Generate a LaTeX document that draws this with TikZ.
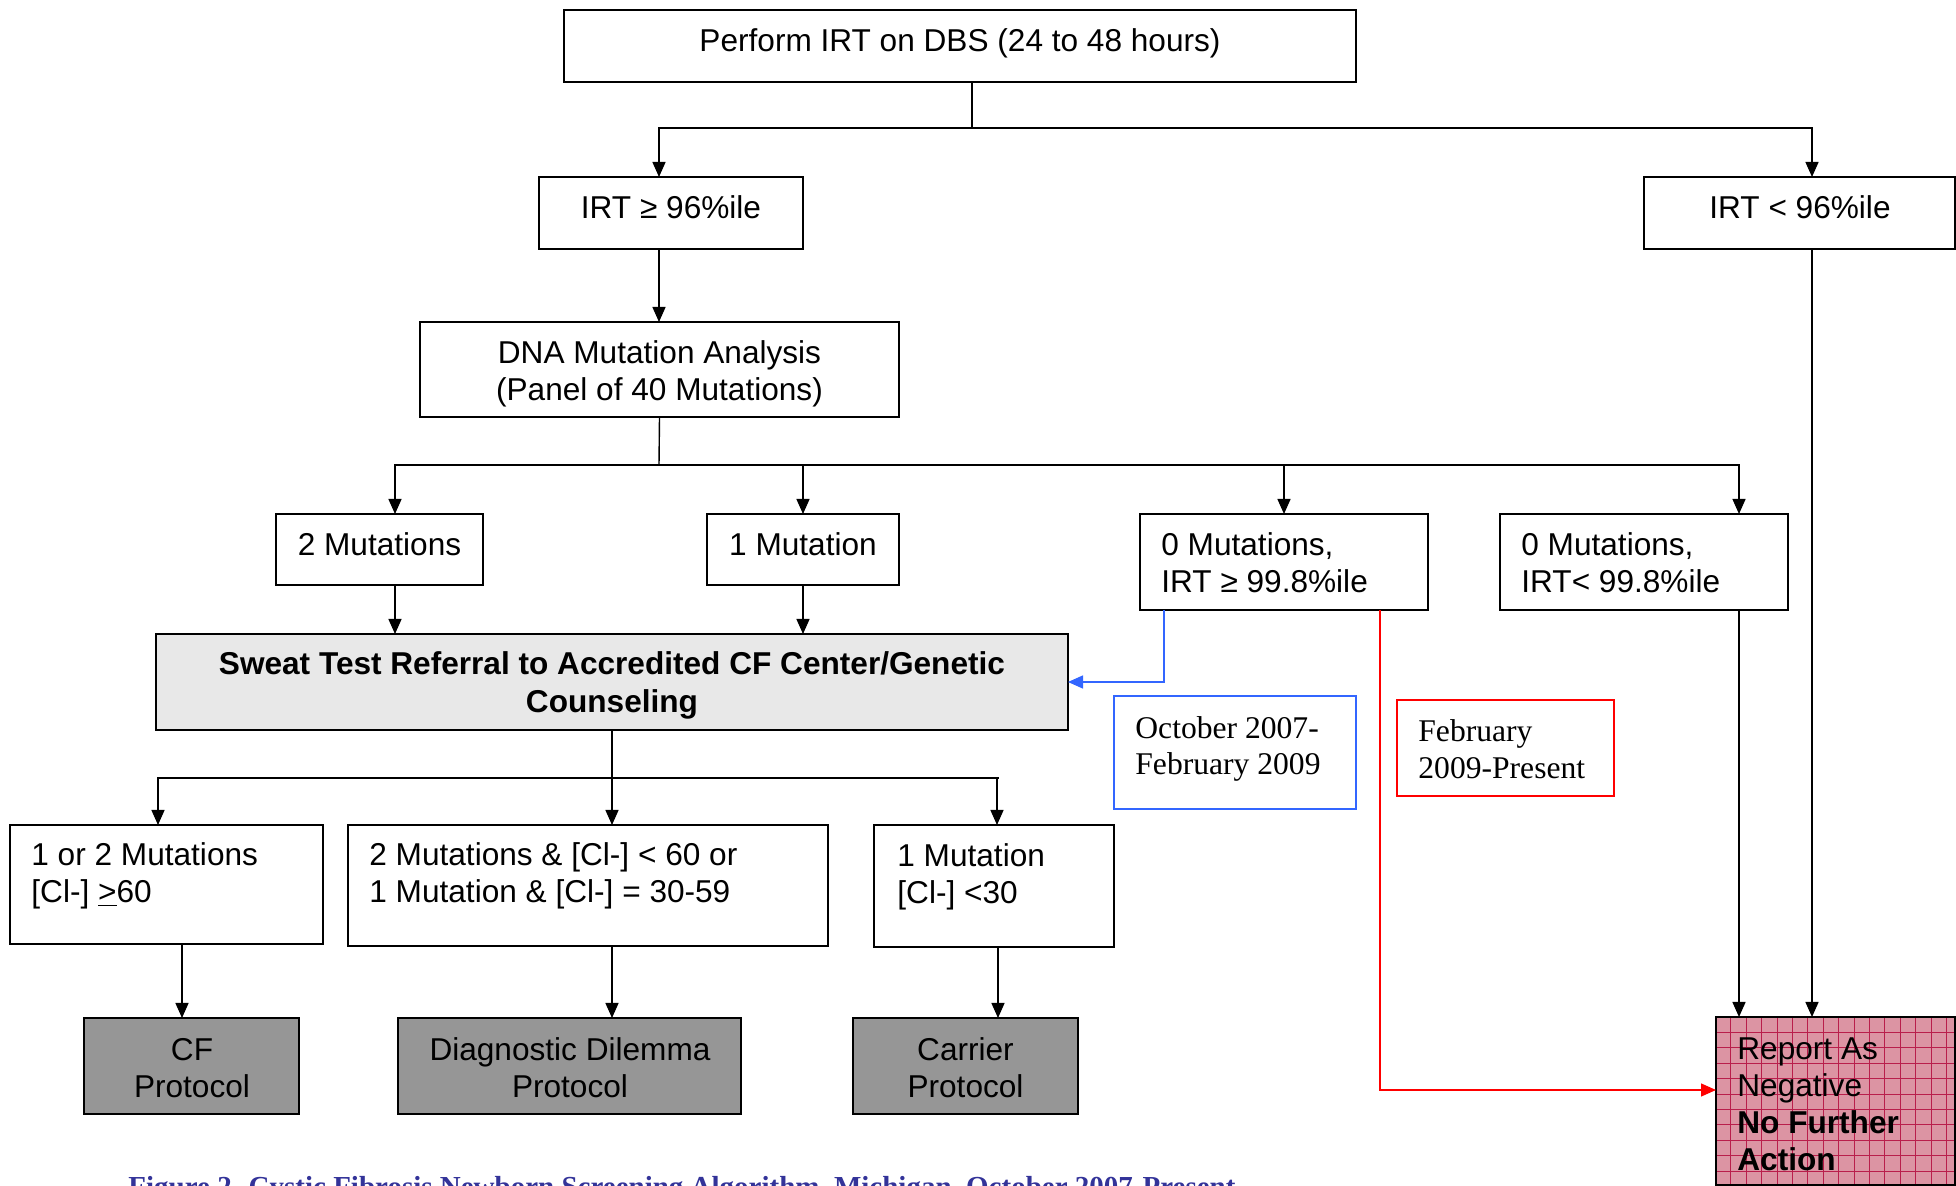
\documentclass[tikz,border=0pt]{standalone}
\usepackage{fontspec}
\setmainfont{Liberation Sans}
\newfontfamily\tms{Liberation Serif}
\usetikzlibrary{arrows.meta,fit,calc}
\definecolor{bluec}{RGB}{51,102,255}
\definecolor{redc}{RGB}{255,0,0}
\definecolor{pinkc}{RGB}{220,148,163}
\definecolor{gridc}{RGB}{185,30,75}
\definecolor{darkg}{RGB}{150,150,150}
\definecolor{lightg}{RGB}{232,232,232}
\definecolor{capc}{RGB}{51,51,153}
\begin{document}
\begin{tikzpicture}[x=0.5pt,y=-0.5pt,
  box/.style={draw=black,line width=1pt,inner sep=0pt,outer sep=0pt},
  ln/.style={line width=0.7pt},
  arr/.style={line width=0.7pt,-{Triangle[length=7.5pt,width=6.5pt]}},
  txt/.style={inner sep=0pt,yshift=-0.9pt,font=\fontsize{15.8}{18}\selectfont},
  lt/.style={txt,anchor=base west},
  ct/.style={txt,anchor=base},
  tt/.style={inner sep=0pt,yshift=-0.9pt,anchor=base west,font=\fontsize{15.8}{18}\selectfont\tms},
]
\useasboundingbox (0,0) rectangle (1956,1186);
\clip (0,0) rectangle (1956,1186);

% ---------- boxes ----------
\node[box,fit={(564,10)(1356,82)}] (top) {};
\node[box,fit={(539,177)(803,249)}] (irtHi) {};
\node[box,fit={(1644,177)(1955,249)}] (irtLo) {};
\node[box,fit={(420,322)(899,417)}] (dna) {};
\node[box,fit={(276,514)(483,585)}] (m2) {};
\node[box,fit={(707,514)(899,585)}] (m1) {};
\node[box,fit={(1140,514)(1428,610)}] (m0hi) {};
\node[box,fit={(1500,514)(1788,610)}] (m0lo) {};
\node[box,fill=lightg,fit={(156,634)(1068,730)}] (sweat) {};
\node[box,draw=bluec,fit={(1114,696)(1356,809)}] (blueb) {};
\node[box,draw=redc,fit={(1397,700)(1614,796)}] (redb) {};
\node[box,fit={(10,825)(323,944)}] (r1) {};
\node[box,fit={(348,825)(828,946)}] (r2) {};
\node[box,fit={(874,825)(1114,947)}] (r3) {};
\node[box,fill=darkg,fit={(84,1018)(299,1114)}] (cf) {};
\node[box,fill=darkg,fit={(398,1018)(741,1114)}] (dd) {};
\node[box,fill=darkg,fit={(853,1018)(1078,1114)}] (carrier) {};
\node[box,fill=pinkc,fit={(1716,1017)(1955,1185)}] (report) {};
\begin{scope}
  \clip (report.north west) rectangle (report.south east);
  \foreach \i in {1,...,16} \draw[gridc,line width=0.45pt] ({1715.5+\i*15.4},1017) -- ({1715.5+\i*15.4},1185);
  \foreach \j in {1,...,11} \draw[gridc,line width=0.45pt] (1716,{1017+\j*15.4}) -- (1955,{1017+\j*15.4});
\end{scope}
\draw[line width=1pt] (report.north west) rectangle (report.south east);

% ---------- texts ----------
\node[ct] (ttop) at (960,50) {Perform IRT on DBS (24 to 48 hours)};
\node[ct] (tirtHi) at (671,217) {IRT ≥ 96\%ile};
\node[ct] (tirtLo) at (1800,217) {IRT < 96\%ile};
\node[ct] (tdna1) at (659.5,362) {DNA Mutation Analysis};
\node[ct] (tdna2) at (659.5,399) {(Panel of 40 Mutations)};
\node[ct] (tm2) at (379.5,554) {2 Mutations};
\node[ct] (tm1) at (803,554) {1 Mutation};
\node[lt] (tm0a) at (1161,554) {0 Mutations,};
\node[lt] (tm0b) at (1161,591) {IRT ≥ 99.8\%ile};
\node[lt] (tm0c) at (1521,554) {0 Mutations,};
\node[lt] (tm0d) at (1521,591) {IRT< 99.8\%ile};
\node[ct,font=\fontsize{15.8}{18}\selectfont\bfseries] (tsw1) at (612,673) {Sweat Test Referral to Accredited CF Center/Genetic};
\node[ct,font=\fontsize{15.8}{18}\selectfont\bfseries] (tsw2) at (612,711) {Counseling};
\node[tt] (tb1) at (1135,737) {October 2007-};
\node[tt] (tb2) at (1135,773) {February 2009};
\node[tt] (tr1) at (1418,740) {February};
\node[tt] (tr2) at (1418,777) {2009-Present};
\node[lt] (tr1a) at (31,864) {1 or 2 Mutations};
\node[lt] (tr1b) at (31,901) {[Cl-] \underline{>}60};
\node[lt] (tr2a) at (369,864) {2 Mutations \& [Cl-] < 60 or};
\node[lt] (tr2b) at (369,901) {1 Mutation \& [Cl-] = 30-59};
\node[lt] (tr3a) at (897,865) {1 Mutation};
\node[lt] (tr3b) at (897,902) {[Cl-] <30};
\node[ct] (tcf1) at (192,1059) {CF};
\node[ct] (tcf2) at (192,1096) {Protocol};
\node[ct] (tdd1) at (570,1059) {Diagnostic Dilemma};
\node[ct] (tdd2) at (570,1096) {Protocol};
\node[ct] (tca1) at (965.5,1059) {Carrier};
\node[ct] (tca2) at (965.5,1096) {Protocol};
\node[lt] (trp1) at (1737,1058) {Report As};
\node[lt] (trp2) at (1737,1095) {Negative};
\node[lt,font=\fontsize{15.8}{18}\selectfont\bfseries] (trp3) at (1737,1132) {No Further};
\node[lt,font=\fontsize{15.8}{18}\selectfont\bfseries] (trp4) at (1737,1169) {Action};
\node[inner sep=0pt,anchor=base west,text=capc,font=\fontsize{14.5}{17}\selectfont\tms\bfseries] (cap) at (128,1196) {Figure 2. Cystic Fibrosis Newborn Screening Algorithm, Michigan, October 2007-Present};

% ---------- connectors ----------
\coordinate (j1) at (972,128);
\draw[ln] (972,0 |- top.south) -- (j1);
\draw[arr] (j1) -| (659,0 |- irtHi.north);
\draw[arr] (j1) -| (1812,0 |- irtLo.north);
\draw[arr] (659,0 |- irtHi.south) -- (659,0 |- dna.north);

\coordinate (j2) at (659,465);
\draw[ln] (dna.south) -- (j2);
\draw[arr] (j2) -| (395,0 |- m2.north);
\draw[arr] (j2) -| (m1.north);
\draw[arr] (j2) -| (m0hi.north);
\draw[arr] (j2) -| (1739,0 |- m0lo.north);

\draw[arr] (395,0 |- m2.south) -- (395,0 |- sweat.north);
\draw[arr] (m1.south) -- (m1.south |- sweat.north);
\draw[arr,bluec] (1164,0 |- m0hi.south) |- (sweat.east);
\draw[arr,redc] (1380,0 |- m0hi.south) |- (report.west |- 0,1090);
\draw[arr] (1739,0 |- m0lo.south) -- (1739,0 |- report.north);
\draw[arr] (1812,0 |- irtLo.south) -- (1812,0 |- report.north);

\coordinate (j3) at (612,778);
\draw[ln] (sweat.south -| j3) -- (j3);
\draw[ln] (j3) -- (999,778);
\draw[arr] (j3) -| (158,0 |- r1.north);
\draw[arr] (j3) -- (j3 |- r2.north);
\draw[arr] (j3) -| (997,0 |- r3.north);

\draw[arr] (182,0 |- r1.south) -- (182,0 |- cf.north);
\draw[arr] (612,0 |- r2.south) -- (612,0 |- dd.north);
\draw[arr] (998,0 |- r3.south) -- (998,0 |- carrier.north);
\end{tikzpicture}
\end{document}
